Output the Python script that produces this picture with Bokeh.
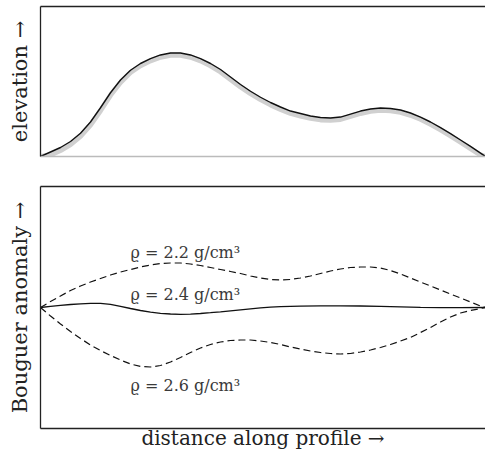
from bokeh.plotting import figure
from bokeh.layouts import column
from bokeh.models import LinearAxis, FixedTicker, ColumnDataSource
from bokeh.core.properties import value
from bokeh.embed import file_html
from bokeh.resources import INLINE

# ---- data: distance along profile (km, 0..44.5) ----
dist = [i for i in range(45)] + [44.5]

elev_black = [0, 3.0, 6.0, 10.0, 15.5, 23.0, 32.5, 42.5, 51.0, 57.5,
              62.0, 65.3, 67.7, 69.0, 69.0, 67.7, 65.3, 62.0, 58.0, 53.0,
              48.0, 43.5, 39.5, 36.0, 33.0, 30.3, 28.7, 27.0, 26.0, 25.7,
              26.3, 28.3, 30.3, 31.7, 32.3, 32.0, 31.0, 29.0, 26.3, 23.0,
              19.3, 15.3, 11.0, 6.7, 2.3, 0]
elev_gray = [0, 1.0, 4.0, 8.0, 13.5, 21.0, 30.5, 40.8, 49.3, 56.0,
             60.5, 63.8, 66.2, 67.5, 67.5, 66.2, 63.8, 60.5, 56.4, 51.4,
             46.4, 41.9, 37.9, 34.4, 31.4, 28.7, 27.0, 25.4, 24.4, 24.1,
             24.7, 26.7, 28.7, 30.1, 30.8, 30.5, 29.5, 27.5, 24.8, 21.5,
             17.8, 13.8, 9.5, 5.2, 1.0, 0]

anom_22 = [0, 3, 5.75, 8.5, 10.75, 12.75, 14.5, 16.25, 17.75, 19,
           20.25, 21.25, 22, 22.25, 22.25, 21.75, 21, 20, 19, 18,
           17, 15.75, 14.75, 14, 13.75, 14, 14.75, 15.75, 17, 18.25,
           19.25, 20, 20.25, 20.25, 19.75, 18.5, 16.75, 14.75, 12.75, 10.75,
           8.75, 6.75, 4.75, 2.75, 0.75, 0]
anom_26 = [0, -4.25, -8.25, -12, -15.5, -18.75, -21.5, -24, -26.25, -28.25,
           -29.5, -29.75, -29, -27.25, -25, -22.5, -20.25, -18.5, -17.25, -16.5,
           -16.25, -16.25, -16.75, -17.5, -18.5, -19.75, -20.75, -21.75, -22.5, -23,
           -23.25, -23, -22.25, -21.25, -20, -18.5, -16.75, -15, -12.5, -10,
           -7.25, -4.75, -2.75, -1.5, -0.5, 0]

dist_24 = [i for i in range(25)] + [26, 28, 30, 32, 34, 36, 38, 40, 42, 44.5]
anom_24 = [0, 0.6, 1.1, 1.5, 1.85, 2.1, 2.1, 1.6, 0.6, -0.5,
           -1.5, -2.35, -2.9, -3.25, -3.4, -3.3, -3.0, -2.6, -2.15, -1.65,
           -1.15, -0.65, -0.15, 0.2, 0.45,
           0.65, 0.8, 0.85, 0.75, 0.55, 0.35, 0.1, -0.1, -0.1, 0]

label_x = [9.0, 9.0, 9.0]
label_y = [27.5, 6.5, -38.8]
label_text = ["ϱ = 2.2 g/cm³", "ϱ = 2.4 g/cm³", "ϱ = 2.6 g/cm³"]

SERIF = "DejaVu Serif"
AX = "#222222"


def style_axis(ax, color, label=None, size="21px", standoff=8):
    ax.ticker = FixedTicker(ticks=[])
    ax.major_tick_out = 0
    ax.major_tick_in = 0
    ax.minor_tick_out = 0
    ax.minor_tick_in = 0
    ax.major_label_standoff = 0
    ax.major_label_text_font_size = "0px"
    ax.axis_line_color = color
    ax.axis_line_width = 1.3
    if label is not None:
        ax.axis_label = label
        ax.axis_label_text_font = SERIF
        ax.axis_label_text_font_size = size
        ax.axis_label_text_font_style = "normal"
        ax.axis_label_text_color = "#222222"
        ax.axis_label_standoff = standoff


# ---- top panel ----
p1 = figure(width=485, height=170, x_range=(0, 44.5), y_range=(0, 100),
            output_backend="svg", toolbar_location=None,
            x_axis_location=None, y_axis_location=None,
            min_border_left=40, min_border_right=0, min_border_top=6, min_border_bottom=14)
p1.outline_line_color = None
p1.grid.visible = False
left1 = LinearAxis()
style_axis(left1, AX, "elevation →", "21px", 9)
p1.add_layout(left1, "left")
bot1 = LinearAxis()
style_axis(bot1, "#bbbbbb")
p1.add_layout(bot1, "below")
top1 = LinearAxis()
style_axis(top1, AX)
p1.add_layout(top1, "above")

p1.line(dist, elev_gray, line_color="#d0d0d0", line_width=5)
p1.line(dist, elev_black, line_color="#111111", line_width=1.4)

# ---- bottom panel ----
p2 = figure(width=485, height=286, x_range=(0, 44.5), y_range=(-60.5, 60.5),
            output_backend="svg", toolbar_location=None,
            x_axis_location=None, y_axis_location=None,
            min_border_left=40, min_border_right=0, min_border_top=16, min_border_bottom=28)
p2.outline_line_color = None
p2.grid.visible = False
left2 = LinearAxis()
style_axis(left2, AX, "Bouguer anomaly →", "21px", 9)
p2.add_layout(left2, "left")
bot2 = LinearAxis()
style_axis(bot2, AX, "distance along profile →", "20px", -3)
p2.add_layout(bot2, "below")
top2 = LinearAxis()
style_axis(top2, AX)
p2.add_layout(top2, "above")

p2.line(dist, anom_22, line_color="#111111", line_width=1.2, line_dash="7 4")
p2.line(dist, anom_26, line_color="#111111", line_width=1.2, line_dash="7 4")
p2.line(dist_24, anom_24, line_color="#111111", line_width=1.3)

src = ColumnDataSource(dict(x=label_x, y=label_y, t=label_text))
p2.text(x="x", y="y", text="t", source=src, text_font=value(SERIF),
        text_font_size="16px", text_color="#3a3a3a", text_baseline="alphabetic",
        text_align="left")

layout = column(p1, p2, spacing=0)
open("out.html", "w").write(file_html(layout, INLINE))
